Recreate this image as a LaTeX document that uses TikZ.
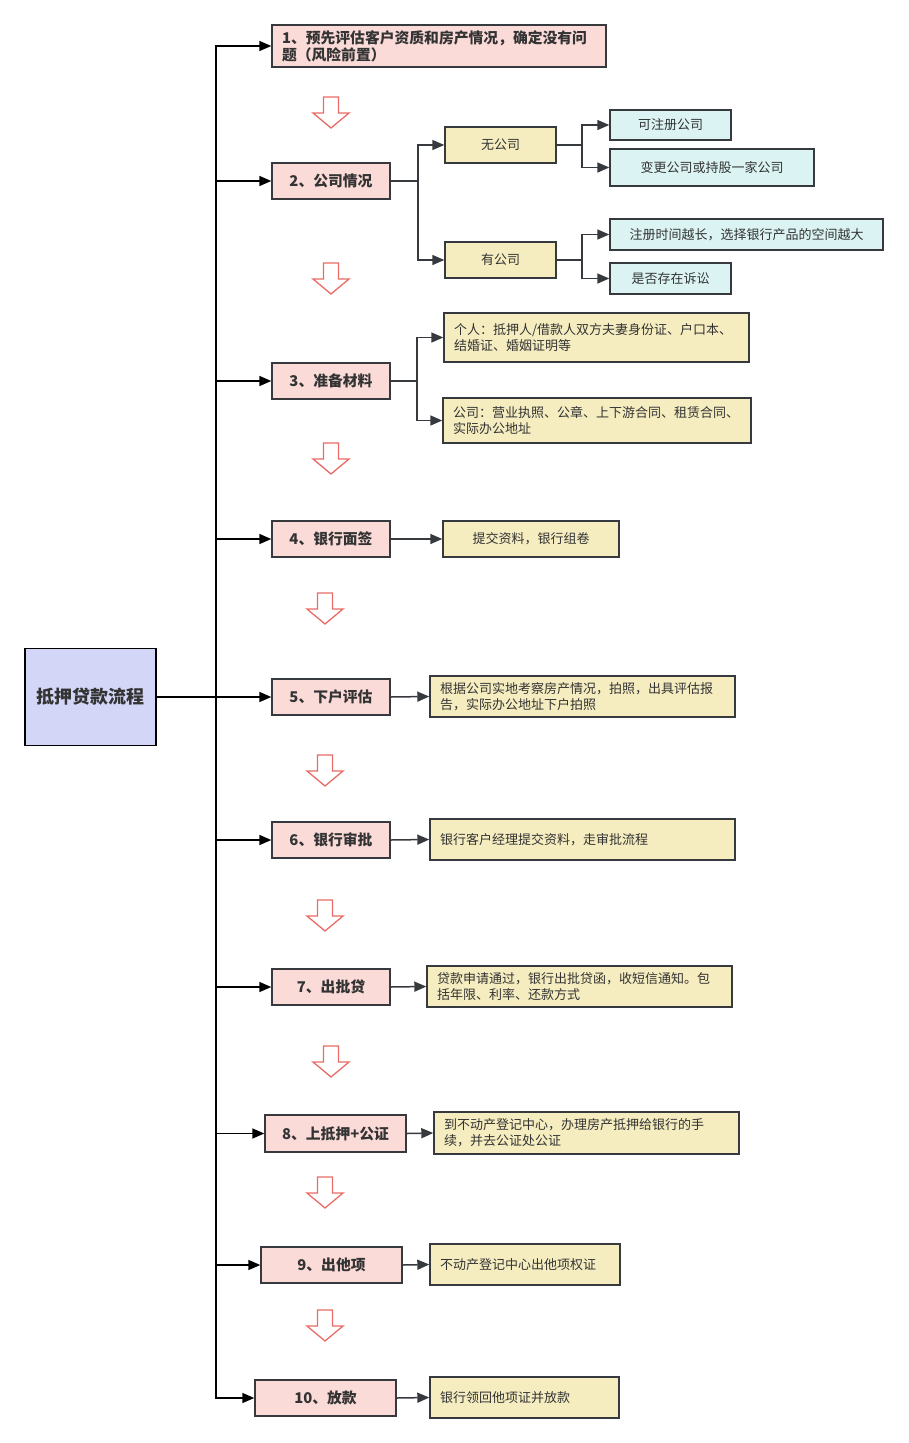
\documentclass[tikz,border=0pt]{standalone}
\usepackage{fontspec}
\setmainfont{Noto Sans CJK SC}
\usetikzlibrary{arrows.meta}
\definecolor{pinkf}{HTML}{FADBD8}
\definecolor{khaki}{HTML}{F5EDC0}
\definecolor{cyanf}{HTML}{DBF4F3}
\definecolor{lav}{HTML}{D3D6F7}
\definecolor{edge}{HTML}{36393D}
\definecolor{txt}{HTML}{333333}
\definecolor{redline}{HTML}{EA6B66}
\tikzset{
  box/.style={draw=edge, line width=1.4pt, rectangle, inner xsep=10pt, inner ysep=2pt, text=txt},
  stepbox/.style={box, fill=pinkf, font=\fontsize{14.8}{17}\selectfont\bfseries},
  subbox/.style={box, fill=khaki, font=\fontsize{13}{16}\selectfont},
  leafbox/.style={box, fill=cyanf, font=\fontsize{13}{16}\selectfont},
  trunkarrow/.style={draw=black, line width=1.6pt, -{Triangle[length=12pt,width=10pt]}},
  conn/.style={draw=edge, line width=1.5pt, -{Triangle[length=12pt,width=10pt]}},
  redarr/.style={draw=redline, line width=1.3pt, fill=white, line join=miter},
}
\newcommand\redarrow[2]{\draw[redarr] (#1,#2) ++(-7.5,0) -- ++(15,0) -- ++(0,16) -- ++(10.5,0) -- ++(-18,15) -- ++(-18,-15) -- ++(10.5,0) -- cycle;}
\begin{document}
\begin{tikzpicture}[x=1pt,y=-1pt]
\useasboundingbox (0,0) rectangle (909,1443);
% main
\node[box, fill=lav, draw=black, minimum width=131pt, minimum height=97pt, font=\fontsize{18}{20}\selectfont\bfseries] (main) at (90.5,697) {抵押贷款流程};
% steps
\node[stepbox, minimum width=334pt, minimum height=42pt, text width=314pt, align=left] (s1) at (439,46) {1、预先评估客户资质和房产情况，确定没有问\\题（风险前置）};
\node[stepbox, minimum width=118pt, minimum height=36pt] (s2) at (331,181) {2、公司情况};
\node[stepbox, minimum width=118pt, minimum height=36pt] (s3) at (331,381) {3、准备材料};
\node[stepbox, minimum width=118pt, minimum height=36pt] (s4) at (331,539) {4、银行面签};
\node[stepbox, minimum width=118pt, minimum height=36pt] (s5) at (331,697) {5、下户评估};
\node[stepbox, minimum width=118pt, minimum height=36pt] (s6) at (331,840) {6、银行审批};
\node[stepbox, minimum width=118pt, minimum height=36pt] (s7) at (331,987) {7、出批贷};
\node[stepbox, minimum width=141pt, minimum height=37pt] (s8) at (335.5,1133.5) {8、上抵押+公证};
\node[stepbox, minimum width=141pt, minimum height=36pt] (s9) at (331.5,1265) {9、出他项};
\node[stepbox, minimum width=141pt, minimum height=36pt] (s10) at (325.5,1398) {10、放款};
% trunk
\coordinate (t) at (216,697);
\draw[line width=1.6pt, draw=black] (main.east) -- (t);
\foreach \s in {s1,s2,s3,s4,s6,s7,s8,s9,s10}{\draw[trunkarrow] (t) |- (\s.west);}
\draw[trunkarrow] (main.east) -- (s5.west);
% step 2 children
\node[subbox, minimum width=111pt, minimum height=36pt] (n1) at (500.5,145) {无公司};
\node[subbox, minimum width=111pt, minimum height=36pt] (n2) at (500.5,260) {有公司};
\coordinate (b2) at (418,181);
\draw[conn] (s2.east) -- (b2) |- (n1.west);
\draw[conn] (b2) |- (n2.west);
\node[leafbox, minimum width=121pt, minimum height=30pt] (l1) at (670.5,125) {可注册公司};
\node[leafbox, minimum width=204pt, minimum height=37pt] (l2) at (712,167.5) {变更公司或持股一家公司};
\coordinate (b21) at (582,145);
\draw[conn] (n1.east) -- (b21) |- (l1.west);
\draw[conn] (b21) |- (l2.west);
\node[leafbox, minimum width=273pt, minimum height=31pt] (l3) at (746.5,234.5) {注册时间越长，选择银行产品的空间越大};
\node[leafbox, minimum width=121pt, minimum height=31pt] (l4) at (670.5,278.5) {是否存在诉讼};
\coordinate (b22) at (582,260);
\draw[conn] (n2.east) -- (b22) |- (l3.west);
\draw[conn] (b22) |- (l4.west);
% step 3 children
\node[subbox, minimum width=305pt, minimum height=49pt, text width=285pt, align=left] (m1) at (596.5,337.5) {个人：抵押人/借款人双方夫妻身份证、户口本、\\结婚证、婚姻证明等};
\node[subbox, minimum width=308pt, minimum height=45pt, text width=288pt, align=left] (m2) at (597,420.5) {公司：营业执照、公章、上下游合同、租赁合同、\\实际办公地址};
\coordinate (b3) at (417,381);
\draw[conn] (s3.east) -- (b3) |- (m1.west);
\draw[conn] (b3) |- (m2.west);
% other details
\node[subbox, minimum width=176pt, minimum height=36pt] (d4) at (531,539) {提交资料，银行组卷};
\node[subbox, minimum width=305pt, minimum height=41pt, text width=285pt, align=left] (d5) at (582.5,696.5) {根据公司实地考察房产情况，拍照，出具评估报\\告，实际办公地址下户拍照};
\node[subbox, minimum width=305pt, minimum height=41pt, text width=285pt, align=left] (d6) at (582.5,839.5) {银行客户经理提交资料，走审批流程};
\node[subbox, minimum width=305pt, minimum height=41pt, text width=285pt, align=left] (d7) at (579.5,986.5) {贷款申请通过，银行出批贷函，收短信通知。包\\括年限、利率、还款方式};
\node[subbox, minimum width=305pt, minimum height=42pt, text width=285pt, align=left] (d8) at (586.5,1133) {到不动产登记中心，办理房产抵押给银行的手\\续，并去公证处公证};
\node[subbox, minimum width=190pt, minimum height=41pt, text width=170pt, align=left] (d9) at (525,1264.5) {不动产登记中心出他项权证};
\node[subbox, minimum width=189pt, minimum height=41pt, text width=169pt, align=left] (d10) at (524.5,1397.5) {银行领回他项证并放款};
\draw[conn] (s4.east) -- (d4.west);
\draw[conn] (s5.east) -- (d5.west);
\draw[conn] (s6.east) -- (d6.west);
\draw[conn] (s7.east) -- (d7.west);
\draw[conn] (s8.east) -- (d8.west);
\draw[conn] (s9.east) -- (d9.west);
\draw[conn] (s10.east) -- (d10.west);
% red hollow arrows
\redarrow{331}{97}
\redarrow{331}{263}
\redarrow{331}{443}
\redarrow{325}{593}
\redarrow{325}{755}
\redarrow{325}{900}
\redarrow{331}{1046}
\redarrow{325}{1177}
\redarrow{325}{1310}
\end{tikzpicture}
\end{document}
